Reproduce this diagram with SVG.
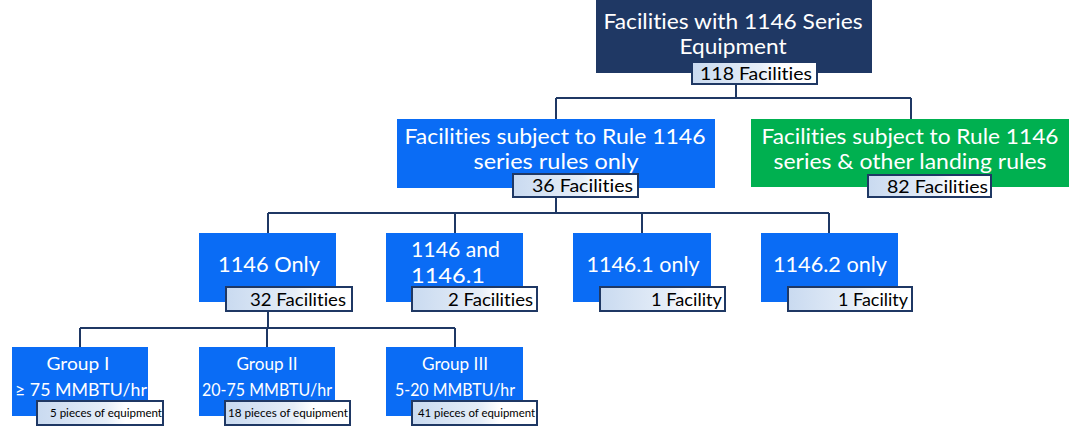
<svg xmlns="http://www.w3.org/2000/svg" width="1072" height="428" viewBox="0 0 1072 428">
<defs>
<linearGradient id="lg" x1="0" y1="0" x2="1" y2="0">
<stop offset="0" stop-color="#c9daf0"/>
<stop offset="0.55" stop-color="#e6eef8"/>
<stop offset="0.7" stop-color="#ffffff"/>
</linearGradient>
<style>
.navy{fill:#1f3864}
.blue{fill:#0a6cf5}
.green{fill:#00b050}
.lab{fill:url(#lg);stroke:#1f3864;stroke-width:2}
text{font-family:Lato,"Liberation Sans",sans-serif;font-variant-ligatures:none}
.t{fill:#ffffff;text-anchor:middle}
.lt{fill:#000000;text-anchor:end}
.c{fill:none;stroke:#1f3864;stroke-width:2}
</style>
</defs>
<rect width="1072" height="428" fill="#ffffff"/>
<g id="connectors">
<path class="c" d="M736 84V98M556 98H911M556 98V119M911 98V119"/>
<path class="c" d="M556 198V213M268 213H829M268 213V233M455 213V233M642 213V233M829 213V233"/>
<path class="c" d="M268 312V328M80 328H455M80 328V347M267 328V347M455 328V347"/>
</g>
<g id="n-root">
<rect class="navy" x="596" y="0" width="276" height="73"/>
<text class="t" x="733" y="29" font-size="22" textLength="259" lengthAdjust="spacingAndGlyphs">Facilities with 1146 Series</text>
<text class="t" x="733" y="54" font-size="22" textLength="107" lengthAdjust="spacingAndGlyphs">Equipment</text>
<rect class="lab" x="692" y="62" width="125" height="22"/>
<text class="lt" x="812" y="80" font-size="18" textLength="112" lengthAdjust="spacingAndGlyphs">118 Facilities</text>
</g>
<g id="n-only">
<rect class="blue" x="397" y="119" width="318" height="69"/>
<text class="t" x="555" y="144" font-size="22" textLength="301" lengthAdjust="spacingAndGlyphs">Facilities subject to Rule 1146</text>
<text class="t" x="556" y="169" font-size="22" textLength="165" lengthAdjust="spacingAndGlyphs">series rules only</text>
<rect class="lab" x="513" y="174" width="125" height="23"/>
<text class="lt" x="633" y="192" font-size="18" textLength="101" lengthAdjust="spacingAndGlyphs">36 Facilities</text>
</g>
<g id="n-other">
<rect class="green" x="751" y="119" width="318" height="68"/>
<text class="t" x="910" y="144" font-size="22" textLength="297" lengthAdjust="spacingAndGlyphs">Facilities subject to Rule 1146</text>
<text class="t" x="910" y="169" font-size="22" textLength="273" lengthAdjust="spacingAndGlyphs">series &amp; other landing rules</text>
<rect class="lab" x="868" y="175" width="123" height="22"/>
<text class="lt" x="988" y="193" font-size="18" textLength="101" lengthAdjust="spacingAndGlyphs">82 Facilities</text>
</g>
<g id="n-1146">
<rect class="blue" x="199" y="233" width="137" height="69"/>
<text class="t" x="269" y="272" font-size="22" textLength="102" lengthAdjust="spacingAndGlyphs">1146 Only</text>
<rect class="lab" x="226" y="287" width="126" height="24"/>
<text class="lt" x="346" y="306" font-size="17" textLength="96" lengthAdjust="spacingAndGlyphs">32 Facilities</text>
</g>
<g id="n-1146-1146-1">
<rect class="blue" x="386" y="233" width="137" height="69"/>
<text x="411" y="257" font-size="22" fill="#ffffff" textLength="89" lengthAdjust="spacingAndGlyphs">1146 and</text>
<text x="411" y="283" font-size="22" fill="#ffffff" textLength="74" lengthAdjust="spacingAndGlyphs">1146.1</text>
<rect class="lab" x="412" y="287" width="125" height="24"/>
<text class="lt" x="533" y="306" font-size="17" textLength="85" lengthAdjust="spacingAndGlyphs">2 Facilities</text>
</g>
<g id="n-1146-1">
<rect class="blue" x="573" y="233" width="138" height="69"/>
<text class="t" x="643" y="272" font-size="22" textLength="113" lengthAdjust="spacingAndGlyphs">1146.1 only</text>
<rect class="lab" x="600" y="287" width="125" height="24"/>
<text class="lt" x="722" y="306" font-size="17" textLength="71" lengthAdjust="spacingAndGlyphs">1 Facility</text>
</g>
<g id="n-1146-2">
<rect class="blue" x="761" y="233" width="137" height="69"/>
<text class="t" x="830" y="272" font-size="22" textLength="114" lengthAdjust="spacingAndGlyphs">1146.2 only</text>
<rect class="lab" x="788" y="287" width="124" height="24"/>
<text class="lt" x="908" y="306" font-size="17" textLength="70" lengthAdjust="spacingAndGlyphs">1 Facility</text>
</g>
<g id="n-g1">
<rect class="blue" x="12" y="347" width="136" height="69"/>
<text class="t" x="78" y="370" font-size="17" textLength="63" lengthAdjust="spacingAndGlyphs">Group I</text>
<text class="t" x="81" y="396" font-size="18" textLength="132" lengthAdjust="spacingAndGlyphs">≥ 75 MMBTU/hr</text>
<rect class="lab" x="37" y="401" width="126" height="24"/>
<text class="lt" x="162" y="417" font-size="11" textLength="112" lengthAdjust="spacingAndGlyphs">5 pieces of equipment</text>
</g>
<g id="n-g2">
<rect class="blue" x="199" y="347" width="136" height="69"/>
<text class="t" x="267" y="370" font-size="17" textLength="61" lengthAdjust="spacingAndGlyphs">Group II</text>
<text class="t" x="267" y="396" font-size="18" textLength="130" lengthAdjust="spacingAndGlyphs">20-75 MMBTU/hr</text>
<rect class="lab" x="225" y="401" width="125" height="24"/>
<text class="lt" x="348" y="417" font-size="11" textLength="120" lengthAdjust="spacingAndGlyphs">18 pieces of equipment</text>
</g>
<g id="n-g3">
<rect class="blue" x="386" y="347" width="137" height="69"/>
<text class="t" x="455" y="370" font-size="17" textLength="66" lengthAdjust="spacingAndGlyphs">Group III</text>
<text class="t" x="455" y="396" font-size="18" textLength="120" lengthAdjust="spacingAndGlyphs">5-20 MMBTU/hr</text>
<rect class="lab" x="412" y="401" width="125" height="24"/>
<text class="lt" x="535" y="417" font-size="11" textLength="117" lengthAdjust="spacingAndGlyphs">41 pieces of equipment</text>
</g>
</svg>
